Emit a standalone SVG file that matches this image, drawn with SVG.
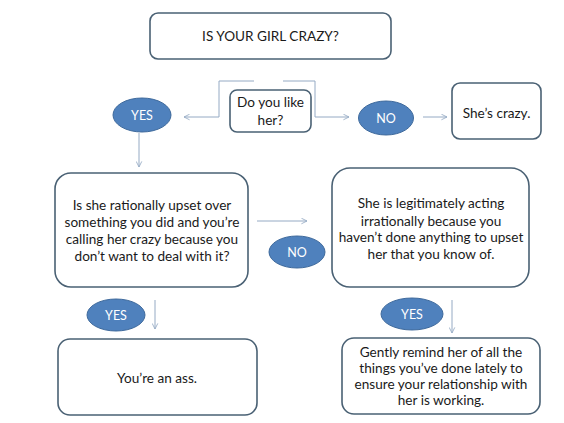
<svg xmlns="http://www.w3.org/2000/svg" width="564" height="423" viewBox="0 0 564 423">
<style>
.box{fill:#fff;stroke:#4a6174;stroke-width:1.6}
.ell{fill:#4f81bd;stroke:#3f6a9c;stroke-width:1}
.t{font-family:Lato,"Liberation Sans",sans-serif;font-size:13.6px;fill:#1a1a1a;text-anchor:middle}
.et{font-family:Lato,"Liberation Sans",sans-serif;font-size:12.5px;fill:#fff;text-anchor:middle}
.c{fill:none;stroke:#95aac4;stroke-width:1}
</style>
<defs>
<marker id="a" viewBox="0 0 10 10" refX="9" refY="5" markerWidth="7" markerHeight="7" orient="auto" markerUnits="userSpaceOnUse">
<path d="M1,1 L9,5 L1,9" fill="none" stroke="#95aac4" stroke-width="1.2"/>
</marker>
</defs>
<rect width="564" height="423" fill="#fff"/>
<g id="connectors">
<path class="c" d="M254,81 H219 V117 H184" marker-end="url(#a)"/>
<path class="c" d="M283,81 H315 V117 H349" marker-end="url(#a)"/>
<path class="c" d="M423,117 H447" marker-end="url(#a)"/>
<path class="c" d="M139,133 V167" marker-end="url(#a)"/>
<path class="c" d="M257,221 H307" marker-end="url(#a)"/>
<path class="c" d="M155,300 V329" marker-end="url(#a)"/>
<path class="c" d="M452,300 V333" marker-end="url(#a)"/>
</g>
<g id="title">
<rect class="box" x="150" y="13" width="241" height="46" rx="8"/>
<text class="t" x="270.5" y="40.5">IS YOUR GIRL CRAZY?</text>
</g>
<g id="like">
<rect class="box" x="230" y="90" width="81" height="42" rx="7"/>
<text class="t" x="270.5" y="107">Do you like</text>
<text class="t" x="270.5" y="124.5">her?</text>
</g>
<g id="yes1">
<ellipse class="ell" cx="142" cy="115" rx="29" ry="17"/>
<text class="et" x="142" y="119.5">YES</text>
</g>
<g id="no1">
<ellipse class="ell" cx="386" cy="118" rx="27.5" ry="17"/>
<text class="et" x="386" y="122.5">NO</text>
</g>
<g id="crazy">
<rect class="box" x="452" y="83" width="89" height="56" rx="8"/>
<text class="t" x="496.5" y="118">She’s crazy.</text>
</g>
<g id="upset">
<rect class="box" x="55" y="173" width="193" height="114" rx="16"/>
<text class="t" x="152" y="210">Is she rationally upset over</text>
<text class="t" x="152" y="227">something you did and you’re</text>
<text class="t" x="152" y="243.5">calling her crazy because you</text>
<text class="t" x="152" y="260.5">don’t want to deal with it?</text>
</g>
<g id="no2">
<ellipse class="ell" cx="297" cy="252" rx="28" ry="16"/>
<text class="et" x="297" y="256.5">NO</text>
</g>
<g id="irr">
<rect class="box" x="332" y="168" width="197" height="119" rx="18"/>
<text class="t" x="431" y="208">She is legitimately acting</text>
<text class="t" x="431" y="225.5">irrationally because you</text>
<text class="t" x="431" y="242">haven’t done anything to upset</text>
<text class="t" x="431" y="259">her that you know of.</text>
</g>
<g id="yes2">
<ellipse class="ell" cx="116" cy="315" rx="29" ry="16"/>
<text class="et" x="116" y="319.5">YES</text>
</g>
<g id="ass">
<rect class="box" x="58" y="339" width="199" height="76" rx="12"/>
<text class="t" x="157" y="383">You’re an ass.</text>
</g>
<g id="yes3">
<ellipse class="ell" cx="412" cy="314" rx="31" ry="16"/>
<text class="et" x="412" y="318.5">YES</text>
</g>
<g id="remind">
<rect class="box" x="342" y="338" width="198" height="76" rx="12"/>
<text class="t" x="441" y="357">Gently remind her of all the</text>
<text class="t" x="441" y="372.5">things you’ve done lately to</text>
<text class="t" x="441" y="389">ensure your relationship with</text>
<text class="t" x="441" y="405">her is working.</text>
</g>
</svg>
